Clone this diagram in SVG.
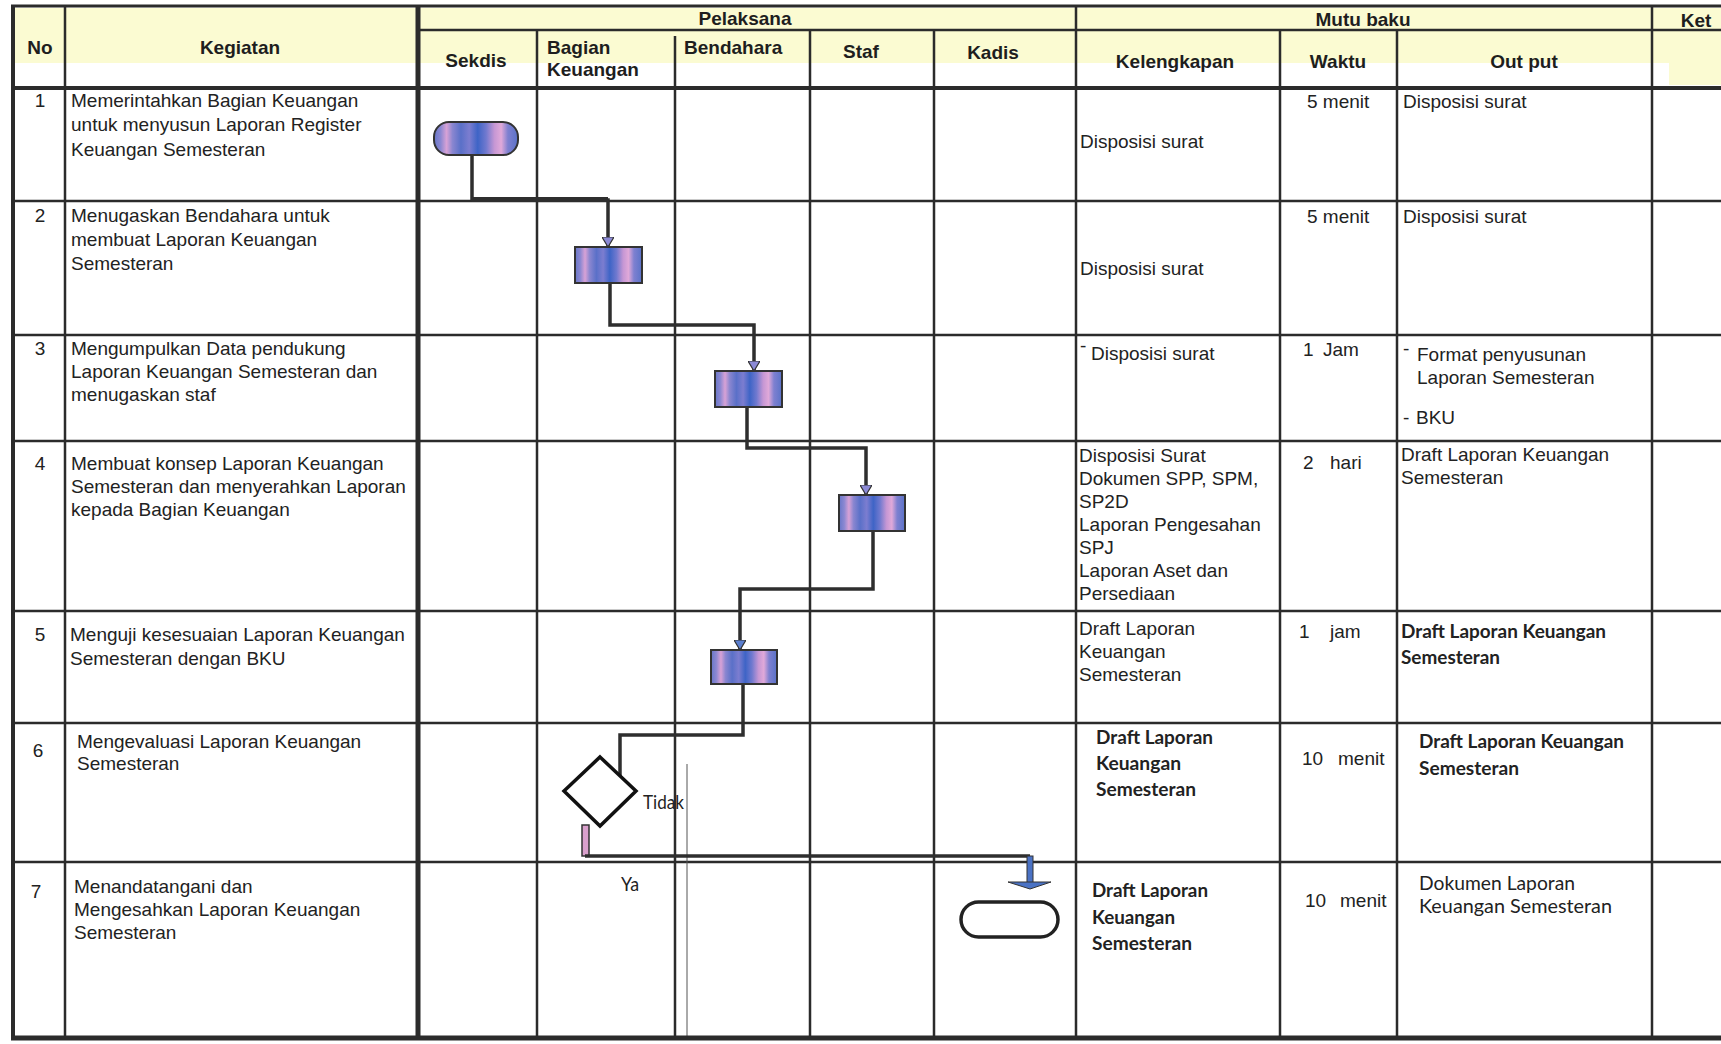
<svg xmlns="http://www.w3.org/2000/svg" width="1721" height="1044" viewBox="0 0 1721 1044">
<style>
.grid{stroke:#2b2b2b;stroke-width:2.5;fill:none}
.thick{stroke:#2b2b2b;fill:none}
.h{font-family:"Liberation Sans",Arial,sans-serif;font-weight:bold;font-size:19px;fill:#1e1e1e}
.t{font-family:"Liberation Sans",Arial,sans-serif;font-size:19px;fill:#222}
.c{font-family:Lato,"Open Sans",sans-serif;font-size:19px;fill:#222}
.cb{font-family:Lato,"Open Sans",sans-serif;font-weight:bold;font-size:19px;fill:#222}
.mid{text-anchor:middle}
.box{fill:url(#stripe);stroke:#333;stroke-width:2}
.con{fill:none;stroke:#2e2e2e;stroke-width:3.5}
</style>
<defs>
<linearGradient id="stripe" x1="0" y1="0" x2="1" y2="0">
<stop offset="0" stop-color="#6776c8"/>
<stop offset="0.08" stop-color="#8c88d2"/>
<stop offset="0.15" stop-color="#d8a2d6"/>
<stop offset="0.22" stop-color="#8a86d0"/>
<stop offset="0.32" stop-color="#5a70c8"/>
<stop offset="0.42" stop-color="#7c7dd0"/>
<stop offset="0.52" stop-color="#3e64c6"/>
<stop offset="0.62" stop-color="#7079cf"/>
<stop offset="0.72" stop-color="#c697d4"/>
<stop offset="0.8" stop-color="#e0a9d9"/>
<stop offset="0.88" stop-color="#7e80d0"/>
<stop offset="1" stop-color="#5a72c8"/>
</linearGradient>
<marker id="arr" viewBox="0 0 10 12" refX="10" refY="6" markerWidth="10" markerHeight="12" markerUnits="userSpaceOnUse" orient="auto">
<path d="M0,0 L10,6 L0,12 z" fill="#8c8ad6" stroke="#333" stroke-width="1.2"/>
</marker>
<marker id="arrb" viewBox="0 0 10 12" refX="10" refY="6" markerWidth="10" markerHeight="12" markerUnits="userSpaceOnUse" orient="auto">
<path d="M0,0 L10,6 L0,12 z" fill="#5b7fd0" stroke="#333" stroke-width="1.2"/>
</marker>
</defs>
<rect x="0" y="0" width="1721" height="1044" fill="#fff"/>
<g id="header-bg">
<rect x="15" y="8" width="1706" height="55" fill="#fbfbd2"/>
<rect x="1669" y="8" width="52" height="77" fill="#fbfbd2"/>
</g>
<g id="grid">
<path class="grid" d="M65,6 V1038 M418,30 H1721 M537,30 V1038 M675,36 V1038 M810,30 V1038 M934,30 V1038 M1076,6 V1038 M1280,30 V1038 M1397,30 V1038 M1652,6 V1038"/>
<path class="grid" d="M11,201 H1721 M11,335 H1721 M11,441 H1721 M11,611 H1721 M11,723 H1721 M11,862 H1721"/>
<path d="M687,764 V1038" stroke="#555" stroke-width="1" fill="none"/>
<path class="thick" stroke-width="3" d="M11,6 H1721"/>
<path class="thick" stroke-width="4" d="M13,5 V1040"/>
<path class="thick" stroke-width="5" d="M418,5 V1040"/>
<path class="thick" stroke-width="4" d="M11,88 H1721"/>
<path class="thick" stroke-width="5" d="M11,1038 H1721"/>
</g>
<g id="header-text">
<text class="h mid" x="40" y="54">No</text>
<text class="h mid" x="240" y="54">Kegiatan</text>
<text class="h mid" x="745" y="25">Pelaksana</text>
<text class="h mid" x="1363" y="26">Mutu baku</text>
<text class="h mid" x="1696" y="27">Ket</text>
<text class="h mid" x="476" y="67">Sekdis</text>
<text class="h" x="547" y="54">Bagian</text>
<text class="h" x="547" y="76">Keuangan</text>
<text class="h" x="684" y="54">Bendahara</text>
<text class="h mid" x="861" y="58">Staf</text>
<text class="h mid" x="993" y="59">Kadis</text>
<text class="h mid" x="1175" y="68">Kelengkapan</text>
<text class="h mid" x="1338" y="68">Waktu</text>
<text class="h mid" x="1524" y="68">Out put</text>
</g>
<g id="row1">
<text class="t mid" x="40" y="107">1</text>
<text class="t" x="71" y="107">Memerintahkan Bagian Keuangan</text>
<text class="t" x="71" y="131">untuk menyusun Laporan Register</text>
<text class="t" x="71" y="156">Keuangan Semesteran</text>
<text class="t" x="1080" y="148">Disposisi surat</text>
<text class="t" x="1307" y="108">5 menit</text>
<text class="t" x="1403" y="108">Disposisi surat</text>
</g>
<g id="row2">
<text class="t mid" x="40" y="222">2</text>
<text class="t" x="71" y="222">Menugaskan Bendahara untuk</text>
<text class="t" x="71" y="246">membuat Laporan Keuangan</text>
<text class="t" x="71" y="270">Semesteran</text>
<text class="t" x="1080" y="275">Disposisi surat</text>
<text class="t" x="1307" y="223">5 menit</text>
<text class="t" x="1403" y="223">Disposisi surat</text>
</g>
<g id="row3">
<text class="t mid" x="40" y="355">3</text>
<text class="t" x="71" y="355">Mengumpulkan Data pendukung</text>
<text class="t" x="71" y="378">Laporan Keuangan Semesteran dan</text>
<text class="t" x="71" y="401">menugaskan staf</text>
<text class="t" x="1080" y="352" font-size="15">-</text>
<text class="t" x="1091" y="360">Disposisi surat</text>
<text class="t" x="1303" y="356">1</text>
<text class="t" x="1323" y="356">Jam</text>
<text class="t" x="1403" y="355" font-size="15">-</text>
<text class="t" x="1417" y="361">Format penyusunan</text>
<text class="t" x="1417" y="384">Laporan Semesteran</text>
<text class="t" x="1403" y="424">-</text>
<text class="t" x="1416" y="424">BKU</text>
</g>
<g id="row4">
<text class="t mid" x="40" y="470">4</text>
<text class="t" x="71" y="470">Membuat konsep Laporan Keuangan</text>
<text class="t" x="71" y="493">Semesteran dan menyerahkan Laporan</text>
<text class="t" x="71" y="516">kepada Bagian Keuangan</text>
<text class="t" x="1079" y="462">Disposisi Surat</text>
<text class="t" x="1079" y="485">Dokumen SPP, SPM,</text>
<text class="t" x="1079" y="508">SP2D</text>
<text class="t" x="1079" y="531">Laporan Pengesahan</text>
<text class="t" x="1079" y="554">SPJ</text>
<text class="t" x="1079" y="577">Laporan Aset dan</text>
<text class="t" x="1079" y="600">Persediaan</text>
<text class="t" x="1303" y="469">2</text>
<text class="t" x="1330" y="469">hari</text>
<text class="t" x="1401" y="461">Draft Laporan Keuangan</text>
<text class="t" x="1401" y="484">Semesteran</text>
</g>
<g id="row5">
<text class="t mid" x="40" y="641">5</text>
<text class="t" x="70" y="641">Menguji kesesuaian Laporan Keuangan</text>
<text class="t" x="70" y="665">Semesteran dengan BKU</text>
<text class="t" x="1079" y="635">Draft Laporan</text>
<text class="t" x="1079" y="658">Keuangan</text>
<text class="t" x="1079" y="681">Semesteran</text>
<text class="t" x="1299" y="638">1</text>
<text class="t" x="1330" y="638">jam</text>
<text class="cb" x="1401" y="638" textLength="205" lengthAdjust="spacingAndGlyphs">Draft Laporan Keuangan</text>
<text class="cb" x="1401" y="664" textLength="99" lengthAdjust="spacingAndGlyphs">Semesteran</text>
</g>
<g id="row6">
<text class="t mid" x="38" y="757">6</text>
<text class="t" x="77" y="748">Mengevaluasi Laporan Keuangan</text>
<text class="t" x="77" y="770">Semesteran</text>
<text class="cb" x="1096" y="744" textLength="117" lengthAdjust="spacingAndGlyphs">Draft Laporan</text>
<text class="cb" x="1096" y="770" textLength="85" lengthAdjust="spacingAndGlyphs">Keuangan</text>
<text class="cb" x="1096" y="796" textLength="100" lengthAdjust="spacingAndGlyphs">Semesteran</text>
<text class="t" x="1302" y="765">10</text>
<text class="t" x="1338" y="765">menit</text>
<text class="cb" x="1419" y="748" textLength="205" lengthAdjust="spacingAndGlyphs">Draft Laporan Keuangan</text>
<text class="cb" x="1419" y="775" textLength="100" lengthAdjust="spacingAndGlyphs">Semesteran</text>
</g>
<g id="row7">
<text class="t mid" x="36" y="898">7</text>
<text class="t" x="74" y="893">Menandatangani dan</text>
<text class="t" x="74" y="916">Mengesahkan Laporan Keuangan</text>
<text class="t" x="74" y="939">Semesteran</text>
<text class="cb" x="1092" y="897" textLength="116" lengthAdjust="spacingAndGlyphs">Draft Laporan</text>
<text class="cb" x="1092" y="924" textLength="83" lengthAdjust="spacingAndGlyphs">Keuangan</text>
<text class="cb" x="1092" y="950" textLength="100" lengthAdjust="spacingAndGlyphs">Semesteran</text>
<text class="t" x="1305" y="907">10</text>
<text class="t" x="1340" y="907">menit</text>
<text class="c" x="1419" y="890" textLength="156" lengthAdjust="spacingAndGlyphs">Dokumen Laporan</text>
<text class="c" x="1419" y="913" textLength="193" lengthAdjust="spacingAndGlyphs">Keuangan Semesteran</text>
</g>
<g id="connectors">
<path class="con" d="M472,155 V200 H608 V247" marker-end="url(#arr)"/>
<path d="M472,199.5 H608" stroke="#2e2e2e" stroke-width="5" fill="none"/>
<path class="con" d="M610,283 V325 H754 V371" marker-end="url(#arr)"/>
<path class="con" d="M747,407 V448 H866 V495" marker-end="url(#arr)"/>
<path class="con" d="M873,531 V589 H740 V650" marker-end="url(#arrb)"/>
<path class="con" d="M743,684 V735 H620 V776"/>
<rect x="582" y="825" width="7" height="31" fill="#d9a0cc" stroke="#333" stroke-width="1.5"/>
<path class="con" d="M585,856 H1030"/>
<rect x="1027" y="856" width="6" height="27" fill="#4a72c4" stroke="#333" stroke-width="1"/>
<polygon points="1008,882 1051,882 1030,889" fill="#4a72c4" stroke="#333" stroke-width="1"/>
<text class="c" x="643" y="809" textLength="41" lengthAdjust="spacingAndGlyphs">Tidak</text>
<text class="c" x="621" y="891" textLength="18" lengthAdjust="spacingAndGlyphs">Ya</text>
</g>
<g id="node-start"><rect class="box" x="434" y="122" width="84" height="33" rx="15" stroke-width="2.5"/></g>
<g id="node-step2"><rect class="box" x="575" y="247" width="67" height="36"/></g>
<g id="node-step3"><rect class="box" x="715" y="371" width="67" height="36"/></g>
<g id="node-step4"><rect class="box" x="839" y="495" width="66" height="36"/></g>
<g id="node-step5"><rect class="box" x="711" y="650" width="66" height="34"/></g>
<g id="node-decision"><polygon points="600,757 636,791 600,826 564,791" fill="#fff" stroke="#111" stroke-width="3.5"/></g>
<g id="node-end"><rect x="961" y="902" width="97" height="35" rx="17.5" fill="#fff" stroke="#222" stroke-width="3.5"/></g>
</svg>
